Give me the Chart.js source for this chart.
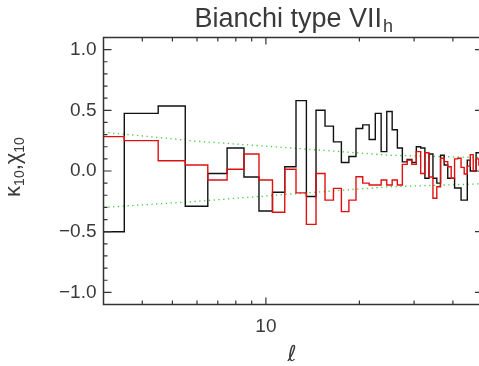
<!DOCTYPE html>
<html lang="en">
<head>
<meta charset="UTF-8">
<title>Bianchi type VIIh</title>
<script src="https://cdn.jsdelivr.net/npm/chart.js"></script>
<style>
  html, body { margin: 0; padding: 0; background: #fff; overflow: hidden; }
  #wrap { width: 486px; height: 366px; }
</style>
</head>
<body>
<div id="wrap"><canvas id="chart" width="486" height="366"></canvas></div>
<script>
// multipoles l = 3 .. 49
const ells = [3, 4, 5, 6, 7, 8, 9, 10, 11, 12, 13, 14, 15, 16, 17, 18, 19, 20, 21, 22, 23, 24, 25, 26,
  27, 28, 29, 30, 31, 32, 33, 34, 35, 36, 37, 38, 39, 40, 41, 42, 43, 44, 45, 46, 47, 48, 49];

// kappa_10 (black)
const kappa = [-0.50, 0.475, 0.535, -0.29, -0.02, 0.19, -0.05, -0.33, -0.175, 0.035, 0.58, -0.21,
  0.50, 0.37, 0.24, 0.07, 0.12, 0.35, 0.38, 0.26, 0.475, 0.16, 0.49, 0.34, 0.19, 0.075, 0.095,
  0.07, 0.20, 0.19, -0.06, 0.14, -0.06, -0.10, 0.13, 0.05, -0.06, -0.06, -0.14, -0.14, -0.24,
  -0.24, 0.09, 0.00, 0.00, 0.15, 0.15];

// chi_10 (red)
const chi = [0.283, 0.25, 0.085, 0.05, -0.074, 0.014, 0.14, -0.074, -0.34, 0.015, -0.18, -0.44,
  -0.02, -0.24, -0.143, -0.335, -0.24, -0.047, -0.10, -0.115, -0.115, -0.074, -0.115, -0.074,
  -0.115, 0.055, 0.09, 0.055, 0.16, -0.02, 0.15, -0.05, -0.225, -0.13, 0.105, 0.077, 0.035,
  -0.06, 0.10, 0.105, 0.03, -0.025, 0.04, 0.135, 0.00, 0.10, 0.05];

// green dotted envelope
const envEll = [3, 6, 12, 25, 50];
const envUpper = [0.32, 0.245, 0.19, 0.13, 0.11];
const envLower = [-0.30, -0.25, -0.19, -0.13, -0.105];

const yTickValues = [-1.0, -0.5, 0.0, 0.5, 1.0];
const yMinorValues = [-1.1, -1.0, -0.9, -0.8, -0.7, -0.6, -0.5, -0.4, -0.3, -0.2, -0.1, 0.0,
  0.1, 0.2, 0.3, 0.4, 0.5, 0.6, 0.7, 0.8, 0.9, 1.0, 1.1];
const xTickValues = [10];
const xMinorValues = [4, 5, 6, 7, 8, 9, 20, 30, 40];

const xMin = 3, xMax = 50;
const font = "'DejaVu Sans ExtraLight', 'Liberation Sans', Arial, sans-serif";
const ink = '#3a3a3a';

// histogram steps: each bin runs from l-0.5 to l+0.5
function steps(vals) {
  const pts = [];
  ells.forEach((l, i) => {
    pts.push({ x: Math.max(l - 0.5, xMin), y: vals[i] });
    pts.push({ x: Math.min(l + 0.5, xMax), y: vals[i] });
  });
  return pts;
}

function envelope(vals) {
  return envEll.map((l, i) => ({ x: l, y: vals[i] }));
}

function fmt(v) {
  if (Math.abs(v) < 1e-9) return '0.0';
  return (v < 0 ? '\u2212' : '') + Math.abs(v).toFixed(1);
}

// box with inward ticks on all four sides
const frame = {
  id: 'frame',
  afterDatasetsDraw(chart) {
    const { ctx, chartArea: a, scales: { x, y } } = chart;
    ctx.save();
    ctx.strokeStyle = '#333';
    ctx.lineWidth = 1.5;
    ctx.strokeRect(a.left, a.top, a.right - a.left, a.bottom - a.top);
    ctx.lineWidth = 1.2;
    ctx.beginPath();
    yMinorValues.forEach(v => {
      const py = y.getPixelForValue(v);
      const len = yTickValues.some(t => Math.abs(t - v) < 1e-6) ? 8 : 4;
      ctx.moveTo(a.left, py); ctx.lineTo(a.left + len, py);
      ctx.moveTo(a.right, py); ctx.lineTo(a.right - len, py);
    });
    xMinorValues.concat(xTickValues).forEach(v => {
      const px = x.getPixelForValue(v);
      const len = xTickValues.includes(v) ? 7 : 4;
      ctx.moveTo(px, a.bottom); ctx.lineTo(px, a.bottom - len);
      ctx.moveTo(px, a.top); ctx.lineTo(px, a.top + len);
    });
    ctx.stroke();
    ctx.restore();
  }
};

// title and axis labels (with subscripts)
const labels = {
  id: 'labels',
  afterDraw(chart) {
    const { ctx, chartArea: a } = chart;
    ctx.save();
    ctx.fillStyle = ink;
    ctx.textBaseline = 'alphabetic';

    // title
    const main = 'Bianchi type VII', sub = 'h';
    ctx.font = '27px ' + font;
    const wMain = ctx.measureText(main).width;
    ctx.font = '18px ' + font;
    const wSub = ctx.measureText(sub).width;
    const tx = (a.left + a.right) / 2 - (wMain + wSub) / 2;
    ctx.font = '27px ' + font;
    ctx.textAlign = 'left';
    ctx.fillText(main, tx, 27);
    ctx.font = '18px ' + font;
    ctx.fillText(sub, tx + wMain + 1, 32);

    // y label, rotated
    const parts = [['\u03BA', 0, 22], ['10', 4, 14], [',', 0, 22], ['\u03C7', 0, 22], ['10', 4, 14]];
    let total = 0;
    parts.forEach(p => { ctx.font = p[2] + 'px ' + font; total += ctx.measureText(p[0]).width; });
    ctx.translate(20, 167);
    ctx.rotate(-Math.PI / 2);
    let cx = -total / 2;
    parts.forEach(p => {
      ctx.font = p[2] + 'px ' + font;
      ctx.fillText(p[0], cx, p[1]);
      cx += ctx.measureText(p[0]).width;
    });
    ctx.setTransform(1, 0, 0, 1, 0, 0);

    // x label
    ctx.font = "italic 22px 'DejaVu Sans', sans-serif";
    ctx.textAlign = 'center';
    ctx.fillText('\u2113', 292, 361);
    ctx.restore();
  }
};

const ctx = document.getElementById('chart').getContext('2d');
new Chart(ctx, {
  type: 'line',
  data: {
    datasets: [
      { data: steps(chi), borderColor: '#e01010', borderWidth: 1.4, pointRadius: 0, tension: 0 },
      { data: steps(kappa), borderColor: '#111', borderWidth: 1.4, pointRadius: 0, tension: 0 },
      { data: envelope(envUpper), borderColor: '#44cc44', borderWidth: 1.3, borderDash: [1.3, 3.5], pointRadius: 0 },
      { data: envelope(envLower), borderColor: '#44cc44', borderWidth: 1.3, borderDash: [1.3, 3.5], pointRadius: 0 }
    ]
  },
  options: {
    responsive: false,
    animation: false,
    devicePixelRatio: 1,
    layout: { padding: { left: 0, top: 37.5, right: 3, bottom: 0 } },
    plugins: { legend: { display: false }, tooltip: { enabled: false } },
    scales: {
      x: {
        type: 'logarithmic',
        min: xMin,
        max: xMax,
        grid: { display: false, drawTicks: false },
        border: { display: false },
        afterBuildTicks: s => { s.ticks = xTickValues.map(v => ({ value: v })); },
        afterFit: s => { s.height = 61.5; },
        ticks: {
          autoSkip: false, maxRotation: 0, padding: 11, color: ink,
          font: { family: font, size: 19 },
          callback: v => String(v)
        }
      },
      y: {
        min: -1.1,
        max: 1.1,
        grid: { display: false, drawTicks: false },
        border: { display: false },
        afterBuildTicks: s => { s.ticks = yTickValues.map(v => ({ value: v })); },
        afterFit: s => { s.width = 103.5; },
        ticks: {
          padding: 7, color: ink,
          font: { family: font, size: 19 },
          callback: v => fmt(v)
        }
      }
    }
  },
  plugins: [frame, labels]
});
</script>
</body>
</html>
